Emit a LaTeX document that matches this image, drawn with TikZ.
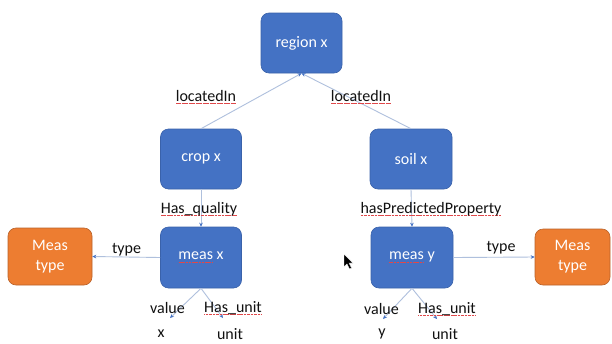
\documentclass[tikz,border=0pt]{standalone}
\usepackage{fontspec}
\setmainfont{Carlito}
\usetikzlibrary{arrows.meta}

\definecolor{boxblue}{HTML}{4472C4}
\definecolor{boxblueedge}{HTML}{3A62AA}
\definecolor{boxorange}{HTML}{ED7D31}
\definecolor{boxorangeedge}{HTML}{B9622A}
\definecolor{linkline}{HTML}{AFC0DD}
\definecolor{tipblue}{HTML}{4472C4}
\definecolor{labeltext}{HTML}{111111}
\definecolor{spellred}{HTML}{E0484A}

% red spell-check style underline under a word
\newcommand\spellmark[1]{\setbox0\hbox{#1}\leavevmode
  \rlap{\color{spellred}\raisebox{-2.8pt}{\hbox to\wd0{\xleaders\hbox to 1.4pt{\hss\rule{1.1pt}{0.6pt}\hss}\hfil}}}\box0\relax}

\tikzset{
  entity/.style={draw=boxblueedge, line width=0.6pt, fill=boxblue, rounded corners=8pt,
    text=white, font=\fontsize{16}{20}\selectfont, align=center, inner sep=0pt},
  typebox/.style={entity, draw=boxorangeedge, fill=boxorange},
  rel/.style={font=\fontsize{16}{20}\selectfont, text=labeltext, inner sep=0pt},
  link/.style={draw=linkline, line width=0.9pt,
    -{Stealth[length=4pt, width=3.6pt, color=tipblue]}},
}

\begin{document}
\begin{tikzpicture}[x=1pt, y=1pt]
  \useasboundingbox[fill=white] (0,0) rectangle (612,-343);

  % entity boxes
  \node[entity, minimum width=81pt, minimum height=60pt] (region) at (301.5,-43) {region x};
  \node[entity, minimum width=81pt, minimum height=60pt] (crop)   at (201,-159) {crop x};
  \node[entity, minimum width=82pt, minimum height=60pt] (soil)   at (411,-159) {soil x};
  \node[entity, minimum width=81pt, minimum height=61pt] (measx)  at (201,-257.5) {\spellmark{meas} x};
  \node[entity, minimum width=82pt, minimum height=61pt] (measy)  at (412,-257.5) {\spellmark{meas} y};
  \node[typebox, minimum width=84pt, minimum height=57pt] (typeL) at (50,-256.5) {Meas\\type};
  \node[typebox, minimum width=75pt, minimum height=56pt] (typeR) at (572.5,-257) {Meas\\type};

  % literal values
  \node[rel] (xval)  at (161,-334) {x};
  \node[rel] (xunit) at (230,-334) {unit};
  \node[rel] (yval)  at (382,-333.5) {y};
  \node[rel] (yunit) at (445,-334) {unit};

  % free ends of the value / unit links
  \coordinate (xvaltip)  at (170,-318);
  \coordinate (xunittip) at (223,-318);
  \coordinate (yvaltip)  at (383,-319);
  \coordinate (yunittip) at (437,-319);

  % links
  \draw[link] (crop.north) -- (region.south);
  \draw[link] (soil.north) -- (region.south);
  \draw[link] (crop.south) -- (measx.north);
  \draw[link] (soil.south) -- (measy.north);
  \draw[link] (measx.west) -- (typeL.east);
  \draw[link] (measy.east) -- (typeR.west);
  \draw[link] (measx.south) -- (xvaltip);
  \draw[link] (measx.south) -- (xunittip);
  \draw[link] (measy.south) -- (yvaltip);
  \draw[link] (measy.south) -- (yunittip);

  % relation labels
  \node[rel] (l1) at (206,-97)   {\spellmark{locatedIn}};
  \node[rel] (l2) at (361,-97)   {\spellmark{locatedIn}};
  \node[rel] (l3) at (199,-209)  {\spellmark{Has\_quality}};
  \node[rel] (l4) at (431,-209)  {\spellmark{hasPredictedProperty}};
  \node[rel] (l5) at (126.5,-250){type};
  \node[rel] (l6) at (501,-248)  {type};
  \node[rel] (l7) at (167.5,-308){value};
  \node[rel] (l8) at (233,-308)  {\spellmark{Has\_unit}};
  \node[rel] (l9) at (381.5,-309){value};
  \node[rel] (l10) at (447,-309) {\spellmark{Has\_unit}};

  % mouse pointer
  \fill[black, draw=white, line width=0.4pt]
    (344,-254) -- (344,-267) -- (347,-264) -- (349.5,-269) -- (351.5,-268)
    -- (349,-263) -- (353,-263) -- cycle;
\end{tikzpicture}
\end{document}
